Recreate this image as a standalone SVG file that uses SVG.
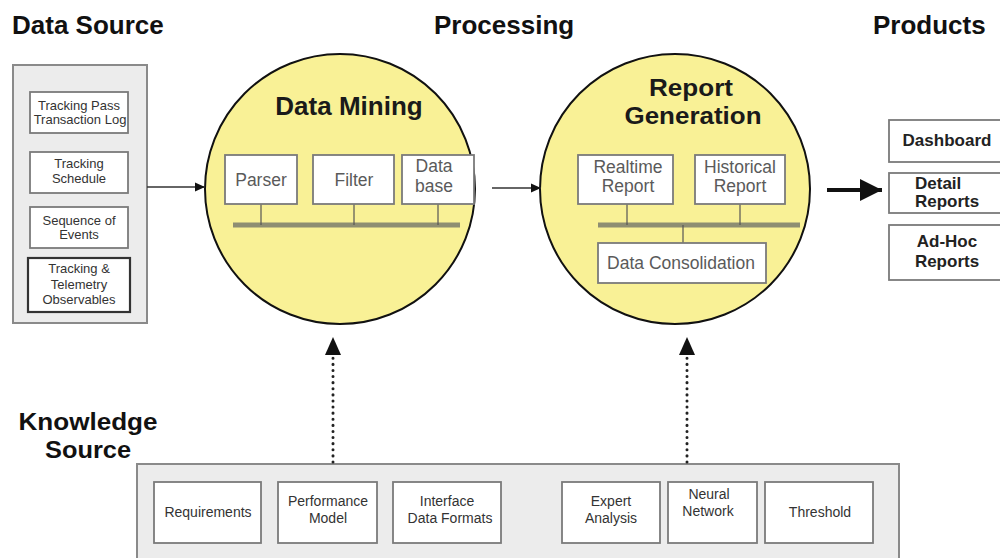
<svg xmlns="http://www.w3.org/2000/svg" width="1000" height="558" viewBox="0 0 1000 558">
  <style>
    text { font-family: "Liberation Sans", Arial, sans-serif; }
    .hdr { font-size: 26px; font-weight: bold; fill: #111; }
    .hdr2 { font-size: 24px; font-weight: bold; fill: #111; text-anchor: middle; }
    .panel { fill: #ececec; stroke: #8a8a8a; stroke-width: 2; }
    .box { fill: #ffffff; stroke: #7a7a7a; stroke-width: 1.8; }
    .sm { font-size: 13px; fill: #333; text-anchor: middle; }
    .ks { font-size: 14px; fill: #333; text-anchor: middle; }
    .circ { fill: #f9f196; stroke: #111; stroke-width: 2; }
    .title { font-size: 26px; font-weight: bold; fill: #1a1a1a; text-anchor: middle; }
    .title2 { font-size: 24px; font-weight: bold; fill: #1a1a1a; text-anchor: middle; }
    .cb { font-size: 17.5px; fill: #5a5a5a; text-anchor: middle; }
    .bus { stroke: #8e8e72; stroke-width: 5; }
    .stem { stroke: #555; stroke-width: 1.2; }
    .prod { font-size: 17px; font-weight: bold; fill: #222; }
    .flow { stroke: #333; stroke-width: 1.5; fill: none; }
    .dots { stroke: #222; stroke-width: 3; stroke-linecap: round; stroke-dasharray: 0.1 6; fill: none; }
  </style>
  <defs>
    <marker id="arrowSmall" viewBox="0 0 10 10" refX="10" refY="5" markerWidth="10" markerHeight="10" markerUnits="userSpaceOnUse" orient="auto">
      <path d="M0,0.5 L10,5 L0,9.5 Z" fill="#111"/>
    </marker>
    <marker id="arrowBig" viewBox="0 0 22 22" refX="22" refY="11" markerWidth="22" markerHeight="22" markerUnits="userSpaceOnUse" orient="auto">
      <path d="M0,0 L22,11 L0,22 Z" fill="#111"/>
    </marker>
  </defs>

  <!-- column headings -->
  <g id="headings">
    <text class="hdr" x="12" y="34">Data Source</text>
    <text class="hdr" x="434" y="34">Processing</text>
    <text class="hdr" x="873" y="34">Products</text>
    <text class="hdr2" x="88" y="430" textLength="139" lengthAdjust="spacingAndGlyphs">Knowledge</text>
    <text class="hdr2" x="88" y="458" textLength="86" lengthAdjust="spacingAndGlyphs">Source</text>
  </g>

  <!-- data source panel -->
  <g id="data-source">
    <rect class="panel" x="13" y="65" width="134" height="258"/>
    <g id="ds-pass-log">
      <rect class="box" x="30" y="92" width="98" height="41"/>
      <text class="sm" x="79" y="110">Tracking Pass</text>
      <text class="sm" x="80" y="124">Transaction Log</text>
    </g>
    <g id="ds-schedule">
      <rect class="box" x="30" y="152" width="98" height="41"/>
      <text class="sm" x="79" y="168">Tracking</text>
      <text class="sm" x="79" y="183">Schedule</text>
    </g>
    <g id="ds-events">
      <rect class="box" x="30" y="207" width="98" height="41"/>
      <text class="sm" x="79" y="225">Sequence of</text>
      <text class="sm" x="79" y="239">Events</text>
    </g>
    <g id="ds-telemetry">
      <rect x="28" y="258" width="102" height="54" fill="#fff" stroke="#333" stroke-width="2.2"/>
      <text class="sm" x="79" y="273">Tracking &amp;</text>
      <text class="sm" x="79" y="289">Telemetry</text>
      <text class="sm" x="79" y="304">Observables</text>
    </g>
  </g>

  <!-- data mining process -->
  <g id="data-mining">
    <circle class="circ" cx="340" cy="189" r="135"/>
    <text class="title" x="349" y="115">Data Mining</text>
    <line class="bus" x1="233" y1="225" x2="460" y2="225"/>
    <line class="stem" x1="261" y1="204" x2="261" y2="225"/>
    <line class="stem" x1="354" y1="204" x2="354" y2="225"/>
    <line class="stem" x1="438" y1="204" x2="438" y2="225"/>
    <g id="dm-parser">
      <rect class="box" x="225" y="155" width="72" height="49"/>
      <text class="cb" x="261" y="186">Parser</text>
    </g>
    <g id="dm-filter">
      <rect class="box" x="313" y="155" width="81" height="49"/>
      <text class="cb" x="354" y="186">Filter</text>
    </g>
    <g id="dm-database">
      <rect class="box" x="402" y="155" width="72" height="49"/>
      <text class="cb" x="434" y="172">Data</text>
      <text class="cb" x="434" y="192">base</text>
    </g>
  </g>

  <!-- report generation process -->
  <g id="report-generation">
    <circle class="circ" cx="675" cy="189" r="135"/>
    <text class="title2" x="691" y="96" textLength="84" lengthAdjust="spacingAndGlyphs">Report</text>
    <text class="title2" x="693" y="124" textLength="137" lengthAdjust="spacingAndGlyphs">Generation</text>
    <line class="bus" x1="598" y1="225" x2="800" y2="225"/>
    <line class="stem" x1="627" y1="204" x2="627" y2="225"/>
    <line class="stem" x1="740" y1="204" x2="740" y2="225"/>
    <line class="stem" x1="683" y1="225" x2="683" y2="243"/>
    <g id="rg-realtime">
      <rect class="box" x="578" y="155" width="95" height="49"/>
      <text class="cb" x="628" y="173">Realtime</text>
      <text class="cb" x="628" y="192">Report</text>
    </g>
    <g id="rg-historical">
      <rect class="box" x="695" y="155" width="90" height="49"/>
      <text class="cb" x="740" y="173">Historical</text>
      <text class="cb" x="740" y="192">Report</text>
    </g>
    <g id="rg-consolidation">
      <rect class="box" x="598" y="243" width="168" height="40"/>
      <text class="cb" x="681" y="269">Data Consolidation</text>
    </g>
  </g>

  <!-- products -->
  <g id="products">
    <g id="p-dashboard">
      <rect class="box" x="889" y="120" width="120" height="42"/>
      <text class="prod" x="947" y="146" text-anchor="middle">Dashboard</text>
    </g>
    <g id="p-detail">
      <rect class="box" x="889" y="173" width="120" height="40"/>
      <text class="prod" x="915" y="189">Detail</text>
      <text class="prod" x="915" y="207">Reports</text>
    </g>
    <g id="p-adhoc">
      <rect class="box" x="889" y="225" width="120" height="55"/>
      <text class="prod" x="947" y="247" text-anchor="middle">Ad-Hoc</text>
      <text class="prod" x="947" y="267" text-anchor="middle">Reports</text>
    </g>
  </g>

  <!-- knowledge source panel -->
  <g id="knowledge-source">
    <rect class="panel" x="137" y="464" width="762" height="100"/>
    <g id="ks-requirements">
      <rect class="box" x="154" y="482" width="107" height="61"/>
      <text class="ks" x="208" y="517">Requirements</text>
    </g>
    <g id="ks-performance">
      <rect class="box" x="278" y="482" width="99" height="61"/>
      <text class="ks" x="328" y="506">Performance</text>
      <text class="ks" x="328" y="523">Model</text>
    </g>
    <g id="ks-interface">
      <rect class="box" x="393" y="482" width="108" height="61"/>
      <text class="ks" x="447" y="506">Interface</text>
      <text class="ks" x="450" y="523">Data Formats</text>
    </g>
    <g id="ks-expert">
      <rect class="box" x="562" y="482" width="98" height="61"/>
      <text class="ks" x="611" y="506">Expert</text>
      <text class="ks" x="611" y="523">Analysis</text>
    </g>
    <g id="ks-neural">
      <rect class="box" x="668" y="482" width="89" height="61"/>
      <text class="ks" x="709" y="499">Neural</text>
      <text class="ks" x="708" y="516">Network</text>
    </g>
    <g id="ks-threshold">
      <rect class="box" x="765" y="482" width="108" height="61"/>
      <text class="ks" x="820" y="517">Threshold</text>
    </g>
  </g>

  <!-- connectors -->
  <g id="connectors">
    <line class="flow" x1="147" y1="187" x2="205" y2="187" marker-end="url(#arrowSmall)"/>
    <line class="flow" x1="492" y1="188" x2="541" y2="188" marker-end="url(#arrowSmall)"/>
    <line x1="827" y1="190" x2="882" y2="190" stroke="#111" stroke-width="4" marker-end="url(#arrowBig)"/>
    <line class="dots" x1="333" y1="462" x2="333" y2="356"/>
    <path d="M333,337 L341,355 L325,355 Z" fill="#111"/>
    <line class="dots" x1="687" y1="462" x2="687" y2="356"/>
    <path d="M687,337 L695,355 L679,355 Z" fill="#111"/>
  </g>
</svg>
